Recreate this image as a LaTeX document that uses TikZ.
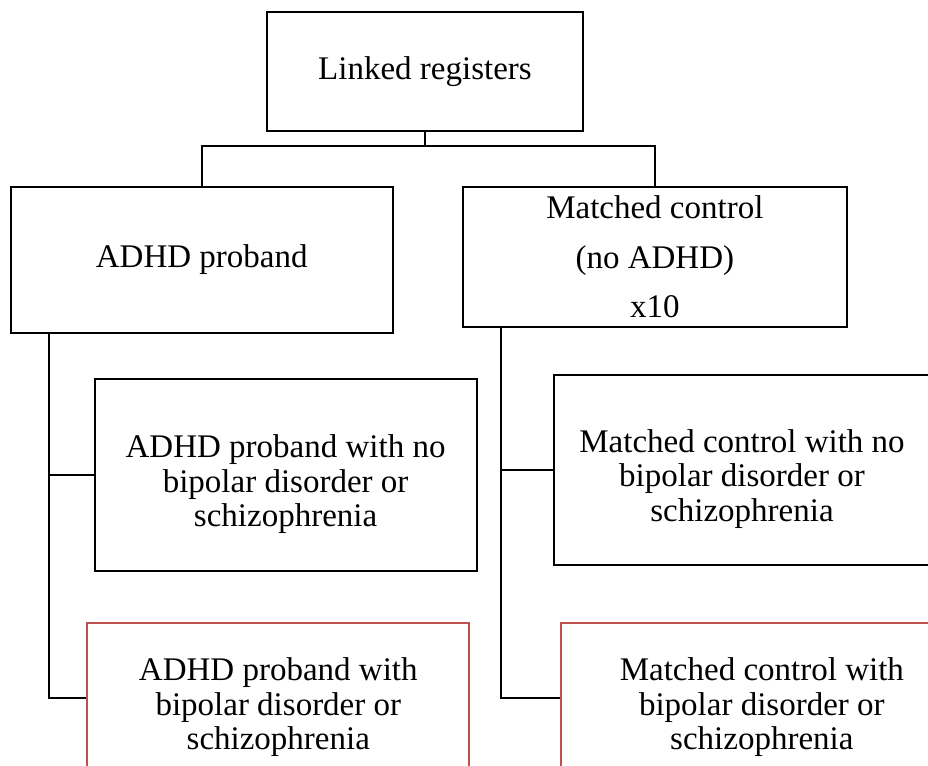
\documentclass[tikz,border=0pt]{standalone}
\usepackage{fontspec}
\setmainfont{Liberation Serif}
\definecolor{accentred}{HTML}{C0504D}
\begin{document}
\begin{tikzpicture}[x=1pt, y=-1pt,
  box/.style={draw=black, line width=2pt, rectangle, inner sep=0pt,
    align=center, font=\fontsize{33}{34.5}\selectfont},
  redbox/.style={box, draw=accentred, line width=1.8pt},
  boxtext/.style={align=center, inner sep=0pt, yshift=-9pt,
    font=\fontsize{33}{34.5}\selectfont},
  link/.style={draw=black, line width=2pt}]
  \clip (0,0) rectangle (928,765);
  \fill[white] (0,0) rectangle (928,765);

  % root and first level
  \node[box, minimum width=315.4pt, minimum height=119pt] (top) at (425,71.2) {Linked registers};
  \node[box, minimum width=381.5pt, minimum height=146.3pt] (adhd) at (201.75,259.85) {ADHD proband};
  \node[box, minimum width=383.7pt, minimum height=140pt] (ctrl) at (654.85,256.7)
    {Matched control\\[15.5pt](no ADHD)\\[13.8pt]x10};

  % second level, proband side
  \node[box, minimum width=382.2pt, minimum height=191.7pt,
    label={[boxtext]center:ADHD proband with no\\bipolar disorder or\\schizophrenia}]
    (adhdno) at (285.6,475.15) {};
  \node[redbox, minimum width=382pt, minimum height=149.7pt,
    label={[boxtext]center:ADHD proband with\\bipolar disorder or\\schizophrenia}]
    (adhdbp) at (278.3,698.15) {};

  % second level, control side
  \node[box, minimum width=376pt, minimum height=190pt,
    label={[boxtext]center:Matched control with no\\bipolar disorder or\\schizophrenia}]
    (ctrlno) at (742,470) {};
  \node[redbox, minimum width=402.3pt, minimum height=149.7pt,
    label={[boxtext]center:Matched control with\\bipolar disorder or\\schizophrenia}]
    (ctrlbp) at (761.85,698.15) {};

  % connectors from the root
  \coordinate (split) at (425,146);
  \draw[link] (top.south) -- (split);
  \draw[link] (adhd.north) |- (split) -| (ctrl.north);

  % proband trunk
  \coordinate (trunkL) at (49.3,333);
  \draw[link] (trunkL) -- (trunkL |- adhdbp.west) -- (adhdbp.west);
  \draw[link] (trunkL |- adhdno.west) -- (adhdno.west);

  % control trunk
  \coordinate (trunkR) at (500.7,326.7);
  \draw[link] (trunkR) -- (trunkR |- ctrlbp.west) -- (ctrlbp.west);
  \draw[link] (trunkR |- ctrlno.west) -- (ctrlno.west);
\end{tikzpicture}
\end{document}
